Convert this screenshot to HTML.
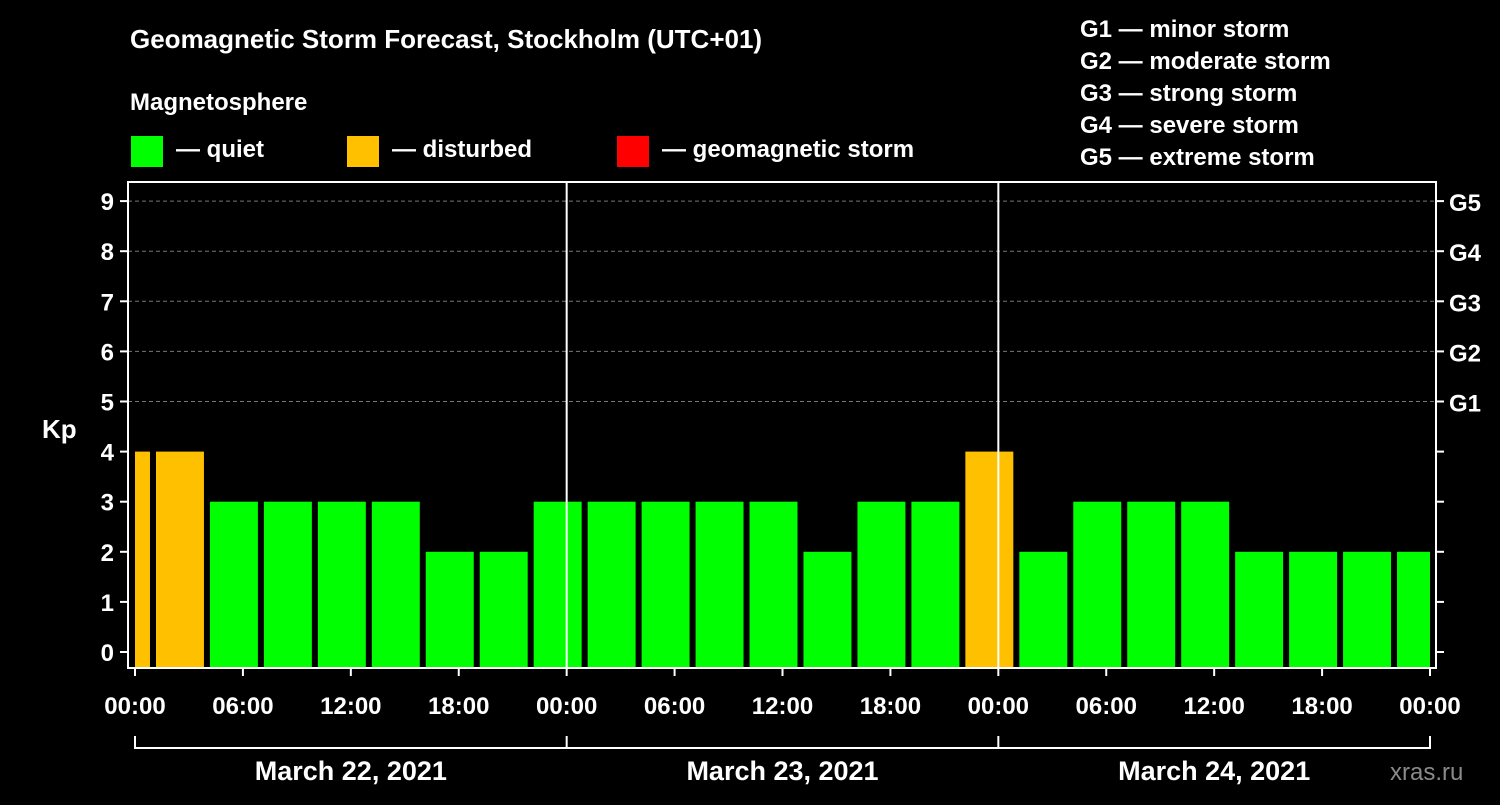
<!DOCTYPE html>
<html><head><meta charset="utf-8"><style>
body{margin:0;background:#000;}
svg text{font-family:"Liberation Sans",sans-serif;font-weight:bold;fill:#fff;}
</style></head><body>
<svg id="c" width="1500" height="800" viewBox="0 0 1500 800">
<rect width="1500" height="800" fill="#000"/>
<text x="130" y="48" font-size="26">Geomagnetic Storm Forecast, Stockholm (UTC+01)</text>
<text x="130" y="110" font-size="24">Magnetosphere</text>
<g><rect x="131" y="136" width="32" height="31" fill="#00ff00"/><text x="176" y="157" font-size="24">— quiet</text></g>
<g><rect x="347" y="136" width="32" height="31" fill="#ffc000"/><text x="392" y="157" font-size="24">— disturbed</text></g>
<g><rect x="617" y="136" width="32" height="31" fill="#ff0000"/><text x="662" y="157" font-size="24">— geomagnetic storm</text></g>
<g font-size="24">
<text x="1080" y="37">G1 — minor storm</text>
<text x="1080" y="69">G2 — moderate storm</text>
<text x="1080" y="101">G3 — strong storm</text>
<text x="1080" y="133">G4 — severe storm</text>
<text x="1080" y="165">G5 — extreme storm</text>
</g>
<text x="42" y="438" font-size="26">Kp</text>
<text x="1390" y="780" font-size="24" fill="#888" style="fill:#8a8a8a;font-weight:normal">xras.ru</text>
<g id="plot"></g>
</svg>
<script>
const kpValues=[4,4,3,3,3,3,2,2,3,3,3,3,3,2,3,3,4,2,3,3,3,2,2,2,2];
const binStartHours=[-2,1,4,7,10,13,16,19,22,25,28,31,34,37,40,43,46,49,52,55,58,61,64,67,70];
const xTickLabels=["00:00","06:00","12:00","18:00","00:00","06:00","12:00","18:00","00:00","06:00","12:00","18:00","00:00"];
const yTickLabels=["0","1","2","3","4","5","6","7","8","9"];
const gLabels=["G1","G2","G3","G4","G5"];
const dayLabels=["March 22, 2021","March 23, 2021","March 24, 2021"];
const NS="http://www.w3.org/2000/svg";
const g=document.getElementById('plot');
const X0=135,X1=1430,H=72;
const x=h=>X0+(X1-X0)*h/H;
const y=v=>652-50.1*v;
function el(t,a){const e=document.createElementNS(NS,t);for(const k in a)e.setAttribute(k,a[k]);g.appendChild(e);return e;}
// grid
for(let v=5;v<=9;v++){const l=el('line',{x1:128,x2:1436,y1:y(v),y2:y(v),stroke:'#777','stroke-dasharray':'4,3'});

}
// bars
kpValues.forEach((v,i)=>{
 let s=Math.max(0,binStartHours[i]),e=Math.min(H,binStartHours[i]+3);
 let a=x(s)+(binStartHours[i]>=0?3:0),b=x(e)-(binStartHours[i]+3<=H?3:0);
 const r=el('rect',{x:a,y:y(v),width:b-a,height:y(-0.3)-y(v),fill:v>=5?'#ff0000':(v>=4?'#ffc000':'#00ff00')});
 
 
});
// day separators
[24,48].forEach(h=>{const l=el('line',{x1:x(h),x2:x(h),y1:182,y2:668,stroke:'#fff','stroke-width':2});

});
// frame
const f=el('rect',{x:128,y:182,width:1308,height:486,fill:'none',stroke:'#fff','stroke-width':2});


// y ticks
yTickLabels.forEach((t,i)=>{
 el('line',{x1:120,x2:128,y1:y(i),y2:y(i),stroke:'#fff','stroke-width':2});
 el('line',{x1:1436,x2:1444,y1:y(i),y2:y(i),stroke:'#fff','stroke-width':2});
 const tx=el('text',{x:114,y:y(i)+9,'font-size':24,'text-anchor':'end'});tx.textContent=t;
 
 
});
gLabels.forEach((t,i)=>{const tx=el('text',{x:1449,y:y(i+5)+10,'font-size':24});tx.textContent=t;
 
 });
// x ticks
xTickLabels.forEach((t,i)=>{
 el('line',{x1:x(i*6),x2:x(i*6),y1:668,y2:676,stroke:'#fff','stroke-width':2});
 const tx=el('text',{x:x(i*6),y:714,'font-size':24,'text-anchor':'middle'});tx.textContent=t;
 
 
});
// date bracket
el('line',{x1:X0,x2:X1,y1:748,y2:748,stroke:'#fff','stroke-width':2});
[0,24,48,72].forEach(h=>el('line',{x1:x(h),x2:x(h),y1:736,y2:749,stroke:'#fff','stroke-width':2}));
dayLabels.forEach((t,i)=>{const tx=el('text',{x:x(i*24+12),y:780,'font-size':27,'text-anchor':'middle'});tx.textContent=t;
 
 });
</script>
</body></html>
